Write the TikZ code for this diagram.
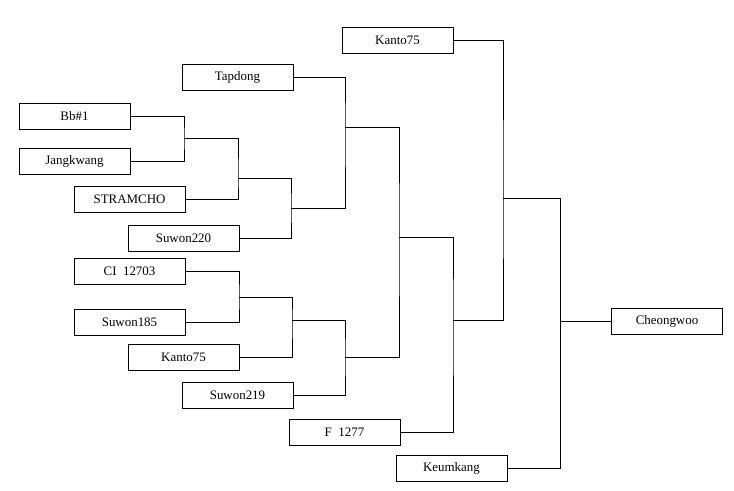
\documentclass[tikz,border=0pt]{standalone}
\usepackage{fontspec}
\setmainfont{Liberation Serif}
\begin{document}
\begin{tikzpicture}[x=0.75pt,y=-0.75pt,
  box/.style={draw,line width=0.6pt,minimum width=83.25pt,minimum height=19.5pt,inner sep=0pt,font=\fontsize{9.7}{11}\selectfont},
  ln/.style={line width=0.6pt}]
\useasboundingbox (0,0) rectangle (734,491);
\node[box] (k1) at (397.5,40) {Kanto75};
\node[box] (tap) at (237.5,77) {Tapdong};
\node[box] (bb) at (74.5,116) {Bb\#1};
\node[box] (jk) at (74.5,161) {Jangkwang};
\node[box] (st) at (129.5,199) {STRAMCHO};
\node[box] (s220) at (183.5,238) {Suwon220};
\node[box] (ci) at (129.5,271) {CI\ \ 12703};
\node[box] (s185) at (129.5,322) {Suwon185};
\node[box] (k2) at (183.5,357) {Kanto75};
\node[box] (s219) at (237.5,395) {Suwon219};
\node[box] (f) at (344.5,432) {F\ \ 1277};
\node[box] (kk) at (451.5,468) {Keumkang};
\node[box] (cw) at (667,321) {Cheongwoo};
\coordinate (j1) at (184,138);
\coordinate (j2) at (238,178);
\coordinate (j3) at (291,208);
\coordinate (j4) at (345,127);
\coordinate (j5) at (239,297);
\coordinate (j6) at (292,320);
\coordinate (j7) at (345,357);
\coordinate (j8) at (399,237);
\coordinate (j9) at (453,320);
\coordinate (j10) at (503,198);
\coordinate (j11) at (560,321);
\draw[ln] (bb.east) -| (j1) |- (jk.east);
\draw[ln] (j1) -| (j2) |- (st.east);
\draw[ln] (j2) -| (j3) |- (s220.east);
\draw[ln] (tap.east) -| (j4) |- (j3);
\draw[ln] (ci.east) -| (j5) |- (s185.east);
\draw[ln] (j5) -| (j6) |- (k2.east);
\draw[ln] (j6) -| (j7) |- (s219.east);
\draw[ln] (j4) -| (j8) |- (j7);
\draw[ln] (j8) -| (j9) |- (f.east);
\draw[ln] (k1.east) -| (j10) |- (j9);
\draw[ln] (j10) -| (j11) |- (kk.east);
\draw[ln] (j11) -- (cw.west);
\end{tikzpicture}
\end{document}
